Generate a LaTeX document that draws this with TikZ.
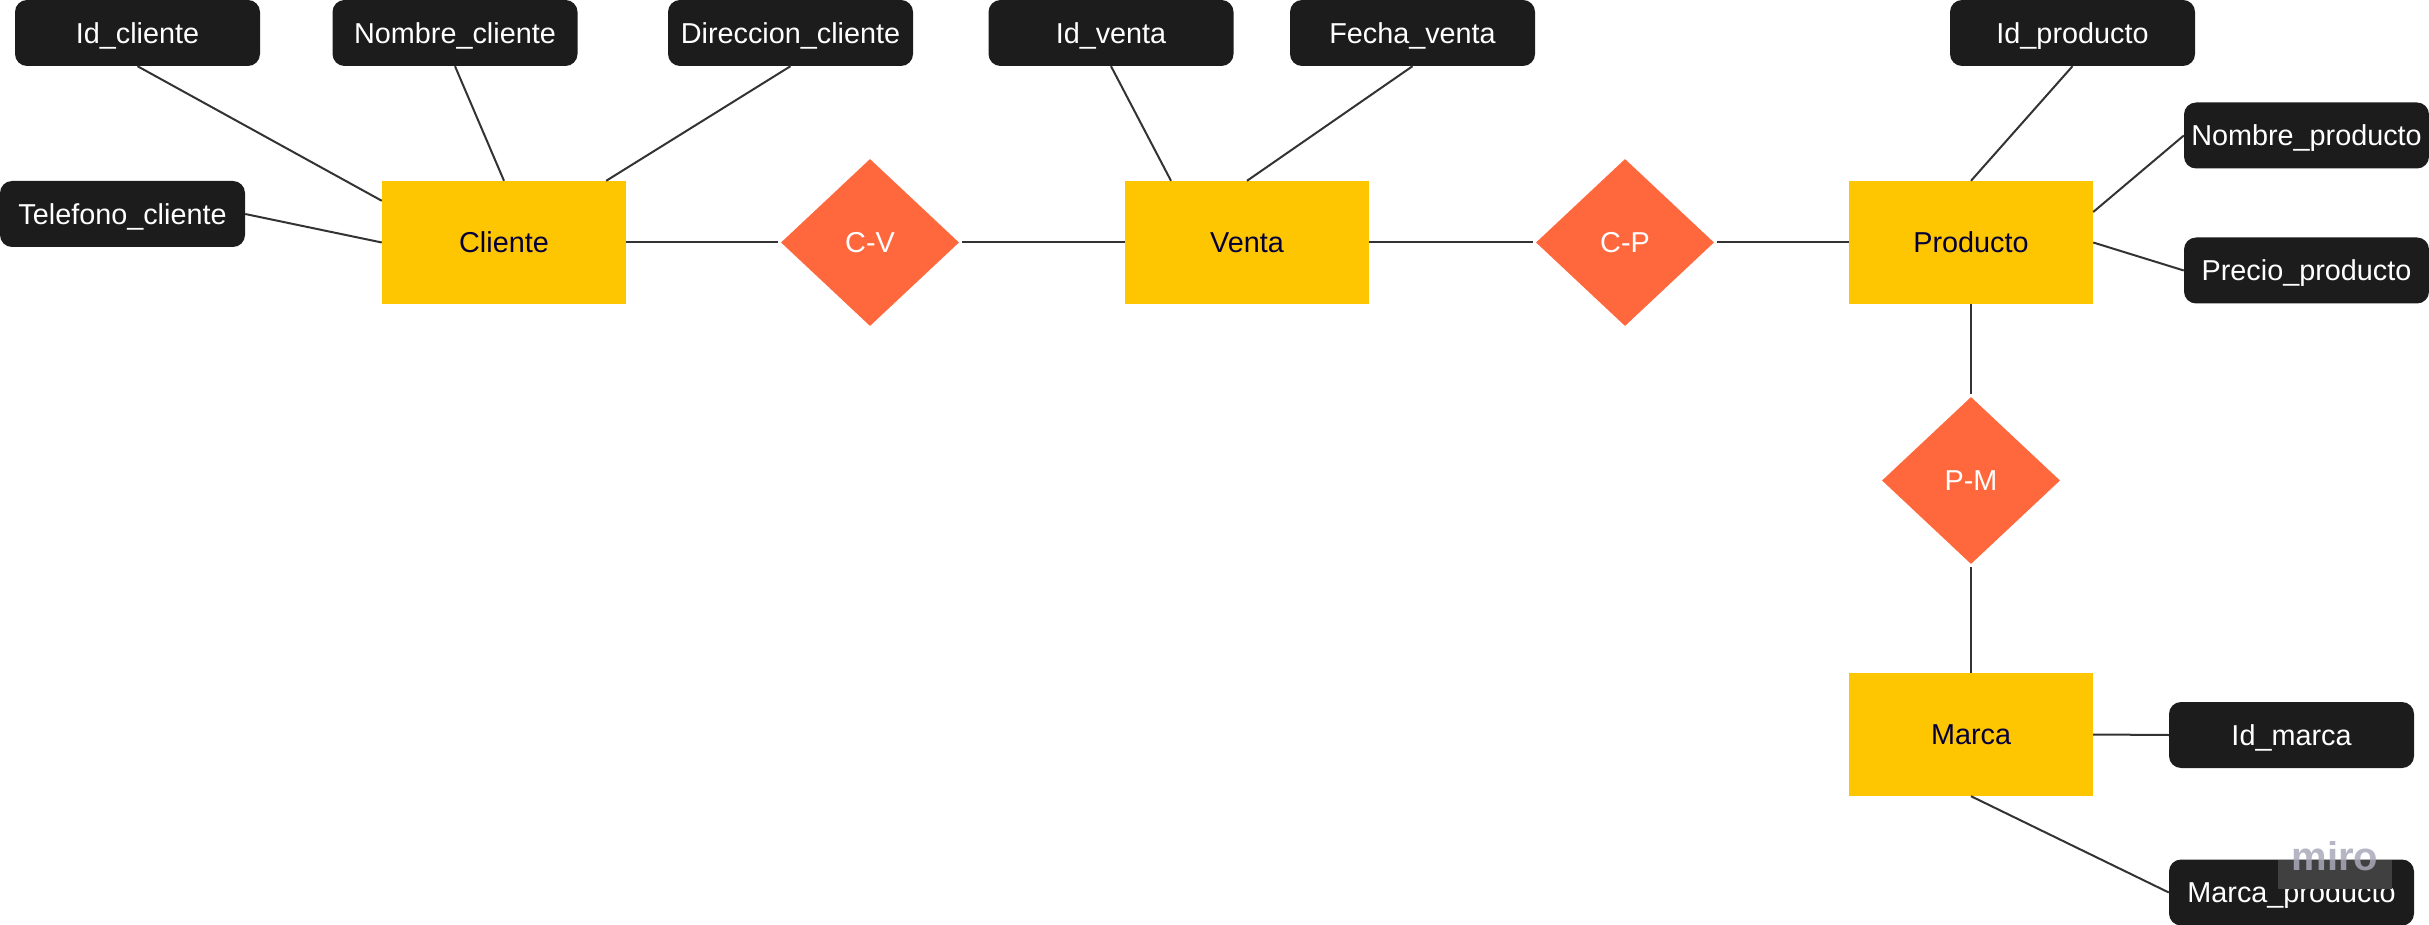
\documentclass[tikz,border=0pt]{standalone}
\usepackage{fontspec}
\setmainfont{Liberation Sans}
\usetikzlibrary{shapes.geometric}
\definecolor{attrfill}{HTML}{1C1C1C}
\definecolor{entfill}{HTML}{FEC601}
\definecolor{enttext}{HTML}{050038}
\definecolor{relfill}{HTML}{FF673D}
\definecolor{linecol}{HTML}{333333}
\definecolor{mirotext}{HTML}{A9A8B8}
\definecolor{mirobox}{HTML}{404040}
\begin{document}
\begin{tikzpicture}[x=1pt,y=-1pt,
  lbl/.style={font=\fontsize{28.8}{34}\selectfont, text height=20.6pt, text depth=0pt},
  attr/.style={lbl, fill=attrfill, rounded corners=12pt, minimum width=245pt, minimum height=66pt, inner sep=0pt, text=white},
  ent/.style={lbl, fill=entfill, minimum width=244pt, minimum height=123pt, inner sep=0pt, text=enttext},
  rel/.style={lbl, diamond, fill=relfill, minimum width=178pt, minimum height=167pt, inner sep=0pt, text=white},
  conn/.style={draw=linecol, line width=2pt}]
\useasboundingbox (0,0) rectangle (2429,925);

% entities
\node[ent] (cliente) at (504,242.5) {Cliente};
\node[ent] (venta) at (1247,242.5) {Venta};
\node[ent] (producto) at (1971,242.5) {Producto};
\node[ent] (marca) at (1971,734.5) {Marca};

% relationships
\node[rel] (cv) at (870,242.5) {C-V};
\node[rel] (cp) at (1625,242.5) {C-P};
\node[rel] (pm) at (1971,480.5) {P-M};

% attributes
\node[attr] (idcli) at (137.5,33) {Id\_cliente};
\node[attr] (nomcli) at (455,33) {Nombre\_cliente};
\node[attr] (dircli) at (790.5,33) {Direccion\_cliente};
\node[attr] (telcli) at (122.5,214) {Telefono\_cliente};
\node[attr] (idven) at (1111,33) {Id\_venta};
\node[attr] (fecven) at (1412.5,33) {Fecha\_venta};
\node[attr] (idprod) at (2072.5,33) {Id\_producto};
\node[attr] (nomprod) at (2306.5,135.5) {Nombre\_producto};
\node[attr] (preprod) at (2306.5,270.5) {Precio\_producto};
\node[attr] (idmar) at (2291.5,735) {Id\_marca};
\node[attr] (marprod) at (2291.5,892.5) {Marca\_producto};

% connectors
\draw[conn] (idcli.south) -- ([yshift=-20pt]cliente.north west);
\draw[conn] (nomcli.south) -- (cliente.north);
\draw[conn] (dircli.south) -- ([xshift=-20pt]cliente.north east);
\draw[conn] (telcli.east) -- (cliente.west);
\draw[conn] (cliente.east) -- ([xshift=-3pt]cv.west);
\draw[conn] ([xshift=3pt]cv.east) -- (venta.west);
\draw[conn] (idven.south) -- ([xshift=-76pt]venta.north);
\draw[conn] (fecven.south) -- (venta.north);
\draw[conn] (venta.east) -- ([xshift=-3pt]cp.west);
\draw[conn] ([xshift=3pt]cp.east) -- (producto.west);
\draw[conn] (idprod.south) -- (producto.north);
\draw[conn] (nomprod.west) -- ([yshift=30.5pt]producto.east);
\draw[conn] (producto.east) -- (preprod.west);
\draw[conn] (producto.south) -- ([yshift=3pt]pm.north);
\draw[conn] ([yshift=-3pt]pm.south) -- (marca.north);
\draw[conn] (marca.east) -- (idmar.west);
\draw[conn] (marca.south) -- (marprod.west);

% watermark
\fill[mirobox] (2278,860) rectangle (2392,889);
\node[text=mirotext, text opacity=0.85, font=\fontsize{40}{40}\selectfont\bfseries, inner sep=0pt, anchor=base] (miro) at (2335,870) {miro};
\end{tikzpicture}
\end{document}
